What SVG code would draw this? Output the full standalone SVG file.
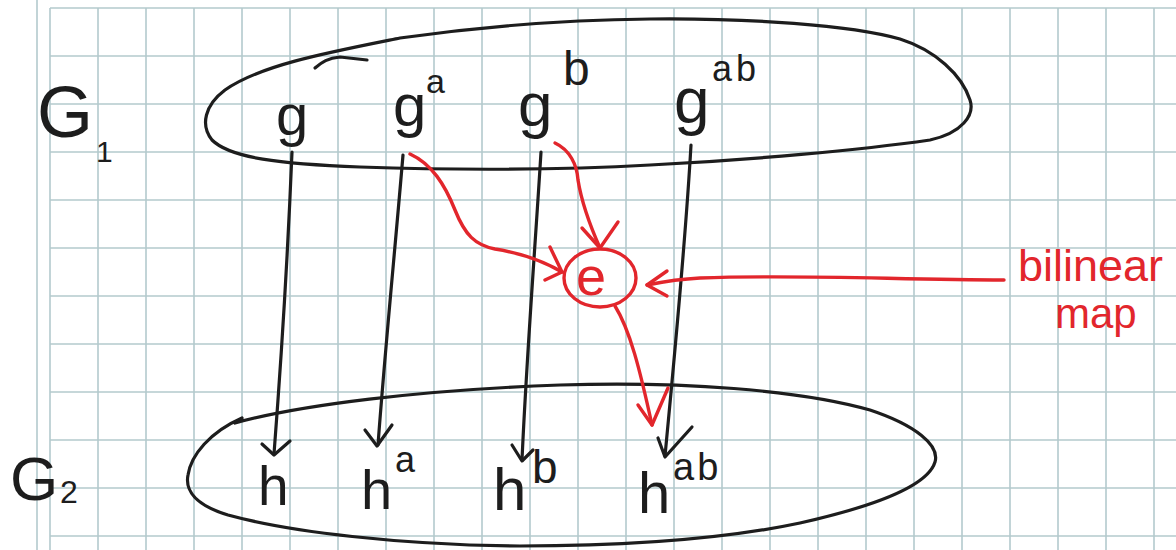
<svg xmlns="http://www.w3.org/2000/svg" width="1176" height="550" viewBox="0 0 1176 550">
<style>
.grid line{stroke:#b3cacd;stroke-width:1.6}
.k{fill:none;stroke:#1d1d1d;stroke-width:3.2;stroke-linecap:round;stroke-linejoin:round}
.r{fill:none;stroke:#e2262c;stroke-width:3.4;stroke-linecap:round;stroke-linejoin:round}
.tk{font-family:"Liberation Sans",Arial,sans-serif;fill:#1d1d1d}
.tr{font-family:"Liberation Sans",Arial,sans-serif;fill:#e2262c}
</style>
<rect width="1176" height="550" fill="#ffffff"/>
<g class="grid">
<line x1="37" y1="0" x2="37" y2="550"/>
<line x1="50" y1="8" x2="50" y2="550"/><line x1="98" y1="8" x2="98" y2="550"/><line x1="146" y1="8" x2="146" y2="550"/><line x1="194" y1="8" x2="194" y2="550"/><line x1="242" y1="8" x2="242" y2="550"/><line x1="290" y1="8" x2="290" y2="550"/><line x1="338" y1="8" x2="338" y2="550"/><line x1="386" y1="8" x2="386" y2="550"/><line x1="434" y1="8" x2="434" y2="550"/><line x1="482" y1="8" x2="482" y2="550"/><line x1="530" y1="8" x2="530" y2="550"/><line x1="578" y1="8" x2="578" y2="550"/><line x1="626" y1="8" x2="626" y2="550"/><line x1="674" y1="8" x2="674" y2="550"/><line x1="722" y1="8" x2="722" y2="550"/><line x1="770" y1="8" x2="770" y2="550"/><line x1="818" y1="8" x2="818" y2="550"/><line x1="866" y1="8" x2="866" y2="550"/><line x1="914" y1="8" x2="914" y2="550"/><line x1="962" y1="8" x2="962" y2="550"/><line x1="1010" y1="8" x2="1010" y2="550"/><line x1="1058" y1="8" x2="1058" y2="550"/><line x1="1106" y1="8" x2="1106" y2="550"/><line x1="1154" y1="8" x2="1154" y2="550"/>
<line x1="50" y1="8" x2="1176" y2="8"/><line x1="50" y1="56" x2="1176" y2="56"/><line x1="50" y1="104" x2="1176" y2="104"/><line x1="50" y1="152" x2="1176" y2="152"/><line x1="50" y1="200" x2="1176" y2="200"/><line x1="50" y1="248" x2="1176" y2="248"/><line x1="50" y1="296" x2="1176" y2="296"/><line x1="50" y1="344" x2="1176" y2="344"/><line x1="50" y1="392" x2="1176" y2="392"/><line x1="50" y1="440" x2="1176" y2="440"/><line x1="50" y1="488" x2="1176" y2="488"/><line x1="50" y1="536" x2="1176" y2="536"/>
</g>

<g id="G1">
<path class="k" d="M400,38 C330,52 260,65 225,90 C205,105 200,125 212,140 C230,158 280,164 360,167 C450,170 560,170 650,165 C750,160 860,150 930,140 C962,133 975,115 970,100 C962,75 935,50 900,39 C850,25 750,18 650,19 C560,20 470,28 400,38"/>
<path class="k" d="M315,68 C322,62 328,58 340,57 L367,60"/>
<text class="tk" x="37" y="137" font-size="72">G</text>
<text class="tk" x="96" y="162" font-size="30">1</text>
</g>

<g id="G2">
<path class="k" d="M235,423 C300,405 420,390 560,385 C680,381 800,390 870,410 C915,425 940,445 935,462 C928,485 880,505 800,523 C720,540 620,546 520,546 C400,545 290,532 228,515 C195,505 185,490 188,475 C191,455 210,432 242,418"/>
<text class="tk" x="10" y="500" font-size="62">G</text>
<text class="tk" x="60" y="503" font-size="32">2</text>
</g>

<g id="g"><text class="tk" x="276" y="135" font-size="58">g</text></g>
<g id="ga"><text class="tk" font-size="60"><tspan x="393" y="126">g</tspan><tspan x="426" y="93" font-size="34">a</tspan></text></g>
<g id="gb"><text class="tk" font-size="62"><tspan x="518" y="126">g</tspan><tspan x="563" y="85" font-size="48">b</tspan></text></g>
<g id="gab"><text class="tk" font-size="64"><tspan x="674" y="123">g</tspan><tspan x="712" y="81" font-size="36" letter-spacing="4">ab</tspan></text></g>

<g id="h"><text class="tk" x="258" y="505" font-size="55">h</text></g>
<g id="ha"><text class="tk" font-size="56"><tspan x="361" y="509">h</tspan><tspan x="395" y="472" font-size="36">a</tspan></text></g>
<g id="hb"><text class="tk" font-size="60"><tspan x="493" y="510">h</tspan><tspan x="532" y="483" font-size="46">b</tspan></text></g>
<g id="hab"><text class="tk" font-size="58"><tspan x="638" y="513">h</tspan><tspan x="673" y="480" font-size="38" letter-spacing="3">ab</tspan></text></g>

<g id="e">
<ellipse class="r" cx="600" cy="278" rx="36" ry="29"/>
<text class="tr" x="576" y="295" font-size="54">e</text>
</g>

<g id="bilinear-map">
<text class="tr" x="1018" y="281" font-size="45">bilinear</text>
<text class="tr" x="1055" y="328" font-size="42">map</text>
</g>

<g id="connectors">
<path class="k" d="M292,152 C288,250 282,350 274,454"/>
<path class="k" d="M262,444 L274,455 L290,441"/>
<path class="k" d="M403,155 C395,250 385,350 378,445"/>
<path class="k" d="M365,430 L377,446 L392,425"/>
<path class="k" d="M541,152 C535,250 527,350 522,460"/>
<path class="k" d="M512,445 L522,461 L533,450"/>
<path class="k" d="M691,145 C685,250 675,350 665,456"/>
<path class="k" d="M658,438 L665,457 L692,427"/>
<path class="r" d="M410,154 C432,164 445,185 455,210 C465,235 475,245 495,249 C520,253 545,262 562,272"/>
<path class="r" d="M550,247 L562,272 L545,280"/>
<path class="r" d="M555,143 C570,150 577,165 578,180 C582,205 592,230 600,248"/>
<path class="r" d="M582,228 L600,248 L618,222"/>
<path class="r" d="M615,306 C630,330 640,370 652,425"/>
<path class="r" d="M638,405 L652,425 L668,388"/>
<path class="r" d="M1004,280 C900,280 800,274 700,278 C680,279 662,282 647,285"/>
<path class="r" d="M667,271 L647,285 L667,296"/>
</g>
</svg>
